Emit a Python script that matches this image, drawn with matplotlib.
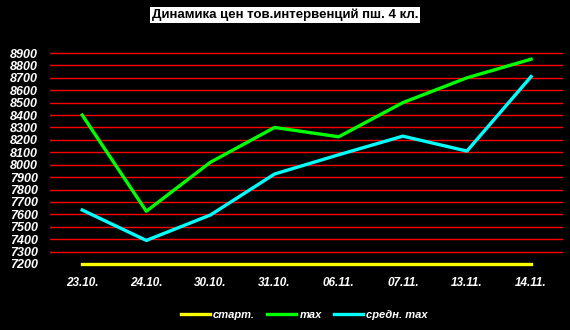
import matplotlib
matplotlib.use("Agg")
import matplotlib.pyplot as plt

dates = ['23.10.', '24.10.', '30.10.', '31.10.', '06.11.', '07.11.', '13.11.', '14.11.']
start = [7200, 7200, 7200, 7200, 7200, 7200, 7200, 7200]
max_price = [8400, 7625, 8020, 8300, 8225, 8500, 8700, 8850]
avg_max = [7635, 7390, 7595, 7925, 8080, 8230, 8110, 8710]
yticks = list(range(7200, 9000, 100))

plt.rcParams['font.family'] = ['Liberation Sans', 'DejaVu Sans']

fig = plt.figure(figsize=(5.7, 3.3), dpi=100, facecolor='black')
ax = fig.add_axes([0.088, 0.2, 0.9, 0.677], facecolor='black')

x = list(range(len(dates)))
for y in yticks[1:]:
    ax.axhline(y, color='#ff0000', lw=1.0, zorder=1)

ax.plot(x, start, color='#ffff00', lw=2.4, label='старт.', clip_on=False, zorder=3)
ax.plot(x, max_price, color='#00ff00', lw=2.4, label='max', zorder=3)
ax.plot(x, avg_max, color='#00ffff', lw=2.4, label='средн. max', zorder=3)

ax.set_xlim(-0.5, len(dates) - 0.5)
ax.set_ylim(7200, 9000)
ax.set_xticks(x)
ax.set_xticklabels(dates)
ax.set_yticks(yticks)
for lab in ax.get_xticklabels():
    lab.set_fontsize(8.5)
for lab in ax.get_yticklabels():
    lab.set_fontsize(9)
for lab in ax.get_xticklabels() + ax.get_yticklabels():
    lab.set_color('white')
    lab.set_fontweight('bold')
    lab.set_fontstyle('italic')
ax.tick_params(axis='x', length=0, pad=9)
ax.tick_params(axis='y', length=0, pad=9)
for s in ax.spines.values():
    s.set_visible(False)

fig.text(0.5, 0.955, 'Динамика цен тов.интервенций пш. 4 кл.', ha='center', va='center',
         fontsize=9.5, fontweight='bold', color='black',
         bbox=dict(facecolor='white', edgecolor='none', boxstyle='square,pad=0.15'))

leg = fig.legend(loc='center', bbox_to_anchor=(0.534, 0.045), ncol=3, frameon=False,
                 handlelength=2.6, handletextpad=0.3, columnspacing=1.1,
                 prop=dict(weight='bold', style='italic', size=8))
for t in leg.get_texts():
    t.set_color('white')

fig.savefig('out.png', facecolor='black')
